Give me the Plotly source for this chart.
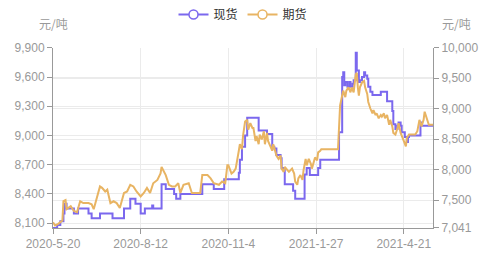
import plotly.graph_objects as go

# 现货 (spot) - left axis, step changes
spot_dates = [
    "2020-05-20", "2020-05-24", "2020-05-27", "2020-05-30", "2020-05-31", "2020-06-02",
    "2020-06-09", "2020-06-13", "2020-06-23", "2020-06-26", "2020-07-04", "2020-07-16",
    "2020-07-27", "2020-08-02", "2020-08-07", "2020-08-12", "2020-08-16", "2020-08-23",
    "2020-08-24", "2020-09-01", "2020-09-05", "2020-09-13", "2020-09-15", "2020-09-19",
    "2020-10-10", "2020-10-21", "2020-10-31", "2020-11-12", "2020-11-14", "2020-11-15",
    "2020-11-17", "2020-11-20", "2020-11-22", "2020-12-03", "2020-12-11", "2020-12-16",
    "2020-12-18", "2020-12-20", "2020-12-24", "2020-12-25", "2020-12-28", "2021-01-05",
    "2021-01-07", "2021-01-16", "2021-01-18", "2021-01-21", "2021-01-29", "2021-01-31",
    "2021-02-18", "2021-02-21", "2021-02-22", "2021-02-23", "2021-02-24", "2021-02-26",
    "2021-02-28", "2021-03-01", "2021-03-03", "2021-03-04", "2021-03-06", "2021-03-07",
    "2021-03-09", "2021-03-10", "2021-03-12", "2021-03-14", "2021-03-15", "2021-03-17",
    "2021-03-18", "2021-03-20", "2021-03-22", "2021-03-30", "2021-04-05", "2021-04-10",
    "2021-04-11", "2021-04-13", "2021-04-15", "2021-04-16", "2021-04-18", "2021-04-19",
    "2021-04-22", "2021-04-24", "2021-04-25", "2021-04-26", "2021-05-07", "2021-05-08",
    "2021-05-19",
]
spot_values = [
    8050, 8080, 8120, 8200, 8300, 8250,
    8200, 8250, 8200, 8150, 8200, 8150,
    8250, 8350, 8300, 8200, 8250, 8280,
    8250, 8500, 8450, 8400, 8350, 8400,
    8500, 8450, 8550, 8550, 8616, 8750,
    8883, 9000, 9183, 9050, 9016, 8883,
    8866, 8800, 8766, 8666, 8500, 8433,
    8350, 8600, 8666, 8593, 8666, 8750,
    9033, 9600, 9650, 9516, 9550, 9500,
    9550, 9500, 9530, 9566, 9850, 9666,
    9550, 9566, 9600, 9650, 9616, 9583,
    9500, 9450, 9416, 9450, 9350, 9250,
    9116, 9066, 9100, 9133, 9100, 9033,
    8983, 8933, 8983, 9000, 9133, 9100,
    9100,
]

# 期货 (futures) - right axis
fut_dates = [
    "2020-05-20", "2020-05-22", "2020-05-25", "2020-05-29", "2020-05-30", "2020-06-01",
    "2020-06-02", "2020-06-06", "2020-06-09", "2020-06-12", "2020-06-15", "2020-06-18",
    "2020-06-23", "2020-06-26", "2020-06-28", "2020-07-04", "2020-07-06", "2020-07-09",
    "2020-07-11", "2020-07-12", "2020-07-14", "2020-07-17", "2020-07-20", "2020-07-23",
    "2020-07-27", "2020-07-30", "2020-08-02", "2020-08-05", "2020-08-08", "2020-08-12",
    "2020-08-15", "2020-08-18", "2020-08-21", "2020-08-24", "2020-08-28", "2020-08-31",
    "2020-09-01", "2020-09-05", "2020-09-08", "2020-09-11", "2020-09-14", "2020-09-17",
    "2020-09-19", "2020-09-22", "2020-09-27", "2020-09-30", "2020-10-08", "2020-10-10",
    "2020-10-15", "2020-10-18", "2020-10-21", "2020-10-26", "2020-10-29", "2020-11-01",
    "2020-11-03", "2020-11-04", "2020-11-07", "2020-11-09", "2020-11-11", "2020-11-14",
    "2020-11-15", "2020-11-17", "2020-11-18", "2020-11-20", "2020-11-22", "2020-11-23",
    "2020-11-25", "2020-11-27", "2020-11-28", "2020-11-30", "2020-12-01", "2020-12-03",
    "2020-12-04", "2020-12-06", "2020-12-08", "2020-12-09", "2020-12-11", "2020-12-12",
    "2020-12-14", "2020-12-16", "2020-12-17", "2020-12-19", "2020-12-20", "2020-12-22",
    "2020-12-24", "2020-12-25", "2020-12-27", "2020-12-28", "2021-01-01", "2021-01-04",
    "2021-01-06", "2021-01-07", "2021-01-09", "2021-01-10", "2021-01-12", "2021-01-14",
    "2021-01-15", "2021-01-17", "2021-01-18", "2021-01-20", "2021-01-22", "2021-01-23",
    "2021-01-25", "2021-01-26", "2021-01-28", "2021-01-29", "2021-01-31", "2021-02-01",
    "2021-02-17", "2021-02-18", "2021-02-19", "2021-02-21", "2021-02-22", "2021-02-24",
    "2021-02-25", "2021-02-27", "2021-03-01", "2021-03-02", "2021-03-04", "2021-03-06",
    "2021-03-07", "2021-03-08", "2021-03-09", "2021-03-10", "2021-03-12", "2021-03-14",
    "2021-03-15", "2021-03-17", "2021-03-18", "2021-03-20", "2021-03-22", "2021-03-23",
    "2021-03-25", "2021-03-26", "2021-03-28", "2021-03-30", "2021-03-31", "2021-04-02",
    "2021-04-03", "2021-04-05", "2021-04-07", "2021-04-08", "2021-04-10", "2021-04-11",
    "2021-04-13", "2021-04-15", "2021-04-16", "2021-04-18", "2021-04-19", "2021-04-21",
    "2021-04-23", "2021-04-24", "2021-04-26", "2021-05-02", "2021-05-04", "2021-05-05",
    "2021-05-06", "2021-05-08", "2021-05-10", "2021-05-11", "2021-05-13", "2021-05-15",
    "2021-05-19",
]
fut_values = [
    7136, 7083, 7110, 7163, 7483, 7500,
    7350, 7400, 7320, 7300, 7480, 7450,
    7450, 7430, 7350, 7723, 7700, 7640,
    7670, 7590, 7450, 7480, 7450, 7370,
    7616, 7640, 7750, 7723, 7640, 7560,
    7616, 7700, 7616, 7776, 7830, 7936,
    8043, 7910, 7750, 7723, 7723, 7776,
    7616, 7750, 7776, 7616, 7616, 7910,
    7910, 7856, 7776, 7750, 7803, 7776,
    8070, 8070, 7936, 7963, 8016, 8310,
    8416, 8336, 8550, 8790, 8816, 8656,
    8763, 8683, 8683, 8470, 8550, 8416,
    8576, 8496, 8630, 8416, 8603, 8470,
    8400, 8310, 8416, 8283, 8230, 8176,
    8230, 8016, 7963, 8043, 7963, 8016,
    7936, 7803, 7750, 7856, 7910, 7830,
    7990, 8176, 8070, 8176, 8096, 8016,
    8150, 8200, 8150, 8283, 8310, 8336,
    8336, 8870, 9056, 9216, 9296, 9190,
    9296, 9350, 9270, 9350, 9270, 9563,
    9590, 9350, 9216, 9350, 9430, 9456,
    9350, 9243, 9110, 9003, 8923, 8976,
    8896, 8923, 8843, 8896, 8870, 8923,
    8843, 8896, 8736, 8816, 8710, 8603,
    8576, 8683, 8763, 8603, 8550, 8470,
    8380, 8523, 8576, 8576, 8630, 8710,
    8816, 8710, 8816, 8950, 8843, 8736,
    8736,
]

x_tick_vals = ["2020-05-20", "2020-08-12", "2020-11-04", "2021-01-27", "2021-04-21"]
x_tick_text = ["2020-5-20", "2020-8-12", "2020-11-4", "2021-1-27", "2021-4-21"]
left_ticks = [8100, 8400, 8700, 9000, 9300, 9600, 9900]
right_ticks = [7041, 7500, 8000, 8500, 9000, 9500, 10000]

PURPLE = "#7B68EE"
ORANGE = "#E8B463"
FONT = "Liberation Sans, Noto Sans CJK SC, sans-serif"

fig = go.Figure()
fig.add_trace(go.Scatter(x=spot_dates, y=spot_values, mode="lines", name="现货",
                         line=dict(color=PURPLE, width=2, shape="hv"), showlegend=False))
fig.add_trace(go.Scatter(x=fut_dates, y=fut_values, mode="lines", name="期货", yaxis="y2",
                         line=dict(color=ORANGE, width=2), showlegend=False))
# legend entries
for nm, col in [("现货", PURPLE), ("期货", ORANGE)]:
    fig.add_trace(go.Scatter(x=[None], y=[None], mode="lines+markers", name=nm,
                             line=dict(color=col, width=2),
                             marker=dict(symbol="circle", size=9, color="white",
                                         line=dict(color=col, width=1.5))))

fig.update_layout(
    width=500, height=263,
    margin=dict(l=53, r=67, t=43, b=35),
    paper_bgcolor="white", plot_bgcolor="white",
    font=dict(family=FONT, size=12, color="#999999"),
    showlegend=True,
    legend=dict(orientation="h", x=0.5, xanchor="center", y=1.0, yref="container",
                yanchor="top", font=dict(size=12, color="#333333", family="Noto Sans CJK SC"),
                itemwidth=30, bgcolor="rgba(0,0,0,0)"),
    xaxis=dict(type="date", range=["2020-05-20", "2021-05-19"],
               tickvals=x_tick_vals, ticktext=x_tick_text,
               showgrid=True, gridcolor="#EBEBEB", gridwidth=1,
               showline=True, linecolor="#999999", linewidth=1,
               ticks="outside", ticklen=5, tickcolor="#999999",
               tickfont=dict(size=12, color="#999999"), zeroline=False),
    yaxis=dict(range=[8050, 9900], tickvals=left_ticks, tickformat=",d",
               showgrid=True, gridcolor="#EBEBEB", gridwidth=1,
               showline=True, linecolor="#999999", linewidth=1,
               ticks="outside", ticklen=5, tickcolor="#999999",
               tickfont=dict(size=12, color="#999999"), zeroline=False),
    yaxis2=dict(range=[7041, 10000], tickvals=right_ticks, tickformat=",d",
                overlaying="y", side="right",
                showgrid=True, gridcolor="#EBEBEB", gridwidth=1,
                showline=True, linecolor="#999999", linewidth=1,
                ticks="outside", ticklen=5, tickcolor="#999999",
                tickfont=dict(size=12, color="#999999"), zeroline=False),
    annotations=[
        dict(text="元/吨", xref="paper", yref="paper", x=0.0, y=1.0, yshift=14,
             xanchor="center", yanchor="bottom", showarrow=False,
             font=dict(size=12, color="#999999", family="Noto Sans CJK SC")),
        dict(text="元/吨", xref="paper", yref="paper", x=1.0, y=1.0, yshift=14, xshift=7,
             xanchor="left", yanchor="bottom", showarrow=False,
             font=dict(size=12, color="#999999", family="Noto Sans CJK SC")),
    ],
)

fig.write_html("out.html")
